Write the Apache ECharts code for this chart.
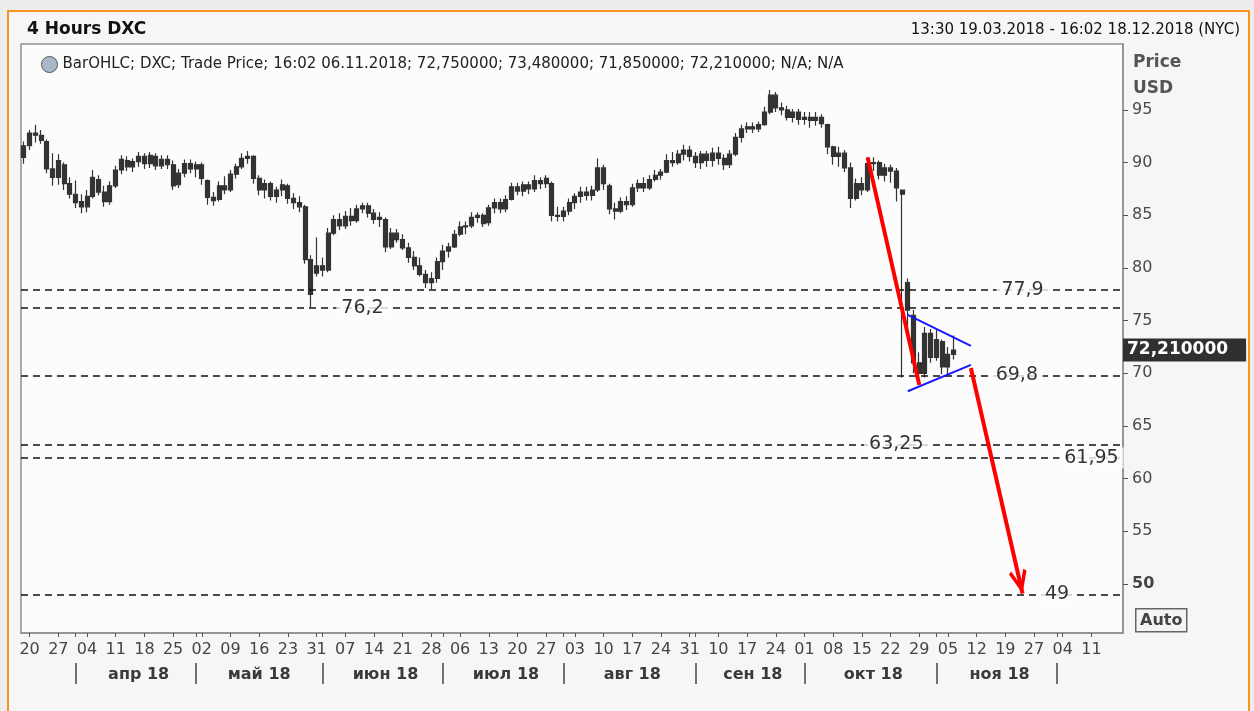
<!DOCTYPE html>
<html>
<head>
<meta charset="utf-8">
<title>4 Hours DXC</title>
<script src="https://cdn.jsdelivr.net/npm/echarts@6/dist/echarts.min.js"></script>
<style>
  html, body { margin: 0; padding: 0; background: #ededed; }
  #frame {
    position: absolute; left: 7px; top: 10px; width: 1239px; height: 720px;
    border: 2px solid #f7941d; background: #f6f6f6;
  }
  #chart { position: absolute; left: 0; top: 0; width: 1254px; height: 711px; }
</style>
</head>
<body>
<div id="frame"></div>
<div id="chart"></div>
<script>
// trading days 19.03.2018 - 18.12.2018 (one category per day)
const tradingDays = [
  '19.03','20.03','21.03','22.03','23.03','26.03','27.03','28.03','29.03',
  '02.04','03.04','04.04','05.04','06.04','09.04','10.04','11.04','12.04','13.04','16.04','17.04','18.04','19.04','20.04','23.04','24.04','25.04','26.04','27.04','30.04',
  '01.05','02.05','03.05','04.05','07.05','08.05','09.05','10.05','11.05','14.05','15.05','16.05','17.05','18.05','21.05','22.05','23.05','24.05','25.05','29.05','30.05','31.05',
  '01.06','04.06','05.06','06.06','07.06','08.06','11.06','12.06','13.06','14.06','15.06','18.06','19.06','20.06','21.06','22.06','25.06','26.06','27.06','28.06','29.06',
  '02.07','03.07','05.07','06.07','09.07','10.07','11.07','12.07','13.07','16.07','17.07','18.07','19.07','20.07','23.07','24.07','25.07','26.07','27.07','30.07','31.07',
  '01.08','02.08','03.08','06.08','07.08','08.08','09.08','10.08','13.08','14.08','15.08','16.08','17.08','20.08','21.08','22.08','23.08','24.08','27.08','28.08','29.08','30.08','31.08',
  '04.09','05.09','06.09','07.09','10.09','11.09','12.09','13.09','14.09','17.09','18.09','19.09','20.09','21.09','24.09','25.09','26.09','27.09','28.09',
  '01.10','02.10','03.10','04.10','05.10','08.10','09.10','10.10','11.10','12.10','15.10','16.10','17.10','18.10','19.10','22.10','23.10','24.10','25.10','26.10','29.10','30.10','31.10',
  '01.11','02.11','05.11','06.11','07.11','08.11','09.11','12.11','13.11','14.11','15.11','16.11','19.11','20.11','21.11','23.11','26.11','27.11','28.11','29.11','30.11',
  '03.12','04.12','05.12','06.12','07.12','10.12','11.12','12.12','13.12','14.12','17.12','18.12'
];

// [open, close, low, high] per day
const bars = [
  [90.5,91.6,89.9,92.0],[91.6,92.8,91.2,93.1],[92.8,92.6,91.9,93.6],[92.6,92.1,91.8,93.1],[92.0,89.4,89.0,92.2],
  [89.4,88.6,87.8,90.9],[88.6,90.2,87.9,90.8],[89.8,88.0,87.4,90.0],[88.0,87.0,86.6,88.6],[87.0,86.2,85.7,88.3],
  [86.3,85.8,85.2,87.0],[85.8,86.8,85.3,87.4],[86.8,88.6,86.6,89.3],[88.4,87.2,86.9,88.8],[87.2,86.3,85.8,87.8],
  [86.3,87.8,86.0,88.2],[87.8,89.3,87.6,89.7],[89.3,90.3,88.9,90.7],[90.2,89.6,89.2,90.6],[89.6,90.1,89.1,90.4],
  [90.1,90.6,89.6,91.0],[90.6,89.9,89.4,90.9],[89.9,90.7,89.5,91.0],[90.6,89.7,89.3,90.9],[89.7,90.3,89.4,90.7],
  [90.3,89.8,89.4,90.7],[89.8,87.8,87.4,90.2],[87.9,89.0,87.6,89.4],[89.0,89.9,88.6,90.3],[89.9,89.4,89.0,90.3],
  [89.4,89.8,88.6,90.1],[89.8,88.5,87.9,90.0],[88.3,86.7,86.0,88.4],[86.7,86.4,85.9,87.2],[86.5,87.8,86.3,88.2],
  [87.8,87.4,87.0,88.7],[87.4,88.9,87.2,89.3],[88.9,89.6,88.5,89.9],[89.6,90.4,89.4,90.9],[90.4,90.6,89.9,91.1],
  [90.6,88.5,88.0,90.7],[88.5,87.4,86.9,88.8],[87.4,88.0,86.6,88.4],[88.0,86.8,86.4,88.2],[86.8,87.4,86.2,87.7],
  [87.4,87.9,86.8,88.4],[87.8,86.6,86.1,88.0],[86.6,86.2,85.6,87.1],[86.2,85.8,85.3,86.8],[85.8,80.8,80.4,86.0],
  [80.8,77.5,76.3,81.2],[79.5,80.2,79.2,82.9],[80.2,79.8,79.2,81.0],[79.8,83.3,79.6,83.8],[83.3,84.6,83.1,85.0],
  [84.6,84.0,83.6,85.2],[84.0,84.9,83.7,85.4],[84.9,84.5,84.0,85.7],[84.5,85.6,84.3,86.0],[85.6,85.9,85.2,86.2],
  [85.9,85.2,84.8,86.2],[85.2,84.6,84.2,85.6],[84.6,84.8,83.9,85.3],[84.6,82.0,81.5,84.8],[82.0,83.3,81.8,83.8],
  [83.3,82.7,82.4,83.7],[82.7,81.9,81.7,83.2],[81.9,81.0,80.5,82.4],[81.0,80.2,79.8,81.6],[80.2,79.4,79.2,81.0],
  [79.4,78.6,78.1,79.8],[78.6,79.0,78.0,79.6],[79.0,80.6,78.6,81.0],[80.6,81.6,79.8,82.2],[81.6,82.0,81.0,82.4],
  [82.0,83.2,81.9,83.6],[83.2,83.9,83.0,84.4],[83.9,84.0,83.2,84.4],[84.0,84.8,83.8,85.3],[84.8,85.0,84.3,85.3],
  [85.0,84.2,83.9,85.2],[84.3,85.7,84.0,86.0],[85.7,86.2,85.2,86.6],[86.2,85.6,85.2,86.6],[85.6,86.5,85.3,86.9],
  [86.5,87.7,86.4,88.1],[87.7,87.3,86.9,88.1],[87.3,87.9,86.8,88.2],[87.9,87.5,87.0,88.2],[87.5,88.3,87.2,88.8],
  [88.3,88.0,87.5,88.6],[88.0,88.5,87.6,88.8],[88.0,85.0,84.4,88.2],[85.0,84.9,84.4,85.8],[84.9,85.4,84.4,85.8],
  [85.4,86.2,85.0,86.6],[86.2,86.8,85.6,87.1],[86.8,87.2,86.2,87.7],[87.2,86.9,86.4,87.7],[86.9,87.4,86.4,87.8],
  [87.4,89.5,87.2,90.4],[89.5,88.0,87.4,89.8],[87.8,85.6,85.1,88.0],[85.6,85.4,84.6,86.2],[85.4,86.3,85.2,86.7],
  [86.3,86.0,85.5,86.8],[86.0,87.6,85.8,88.0],[87.6,88.0,87.2,88.4],[88.0,87.6,87.2,88.6],[87.6,88.4,87.4,88.8],
  [88.4,88.8,88.2,89.3],[88.8,89.1,88.4,89.4],[89.1,90.2,89.0,90.8],[90.2,90.0,89.6,91.0],[90.0,90.8,89.8,91.2],
  [90.8,91.2,90.2,91.7],[91.2,90.6,90.1,91.6],[90.6,90.0,89.5,91.0],[90.0,90.8,89.4,91.1],[90.8,90.2,89.6,91.1],
  [90.2,90.9,89.6,91.4],[90.9,90.4,89.8,91.5],[90.4,89.8,89.3,90.8],[89.8,90.8,89.5,91.2],[90.8,92.4,90.6,92.8],
  [92.4,93.2,91.9,93.6],[93.2,93.4,92.8,93.8],[93.4,93.2,92.8,93.8],[93.2,93.6,92.9,93.9],[93.6,94.8,93.5,95.3],
  [94.8,96.4,94.6,96.9],[96.4,95.2,94.8,96.7],[95.2,95.0,94.5,95.7],[95.0,94.3,94.0,95.4],[94.3,94.8,93.8,95.1],
  [94.8,94.1,93.6,95.1],[94.1,94.3,93.6,94.8],[94.3,94.0,93.3,94.8],[94.0,94.3,93.5,94.8],[94.3,93.7,93.3,94.6],
  [93.6,91.5,90.8,93.7],[91.5,90.6,89.8,91.6],[90.6,90.9,89.6,91.5],[90.9,89.5,89.1,91.2],[89.5,86.6,85.7,90.0],
  [86.6,88.0,86.4,88.5],[88.0,87.4,86.9,88.6],[87.4,89.9,87.2,90.5],[89.9,90.0,89.2,90.5],[90.0,88.8,88.4,90.2],
  [88.8,89.5,88.2,89.9],[89.5,89.2,88.1,89.8],[89.2,87.6,86.3,89.5],[87.4,87.0,69.6,87.4],[78.6,76.0,73.2,79.0],
  [75.5,71.0,70.0,76.0],[71.0,70.0,68.9,72.0],[70.0,73.8,69.6,74.4],[73.8,71.5,71.0,74.2],[71.5,73.2,71.2,74.1],
  [73.0,70.6,69.9,73.2],[70.6,71.8,69.7,72.5],[71.8,72.21,71.3,73.6]
];

// last 4h bar shown in the legend: open, high, low, close
const lastBar = [72.75, 73.48, 71.85, 72.21];

const weekTicks = ['20.03','27.03','04.04','11.04','18.04','25.04','02.05','09.05','16.05','23.05','31.05',
  '07.06','14.06','21.06','28.06','06.07','13.07','20.07','27.07','03.08','10.08','17.08','24.08','31.08',
  '10.09','17.09','24.09','01.10','08.10','15.10','22.10','29.10','05.11','12.11','19.11','27.11','04.12','11.12'];
const monthStarts = ['02.04','01.05','01.06','02.07','01.08','04.09','01.10','01.11','03.12'];
const monthNames = ['апр 18','май 18','июн 18','июл 18','авг 18','сен 18','окт 18','ноя 18'];
const yTicks = [50, 55, 60, 65, 70, 75, 80, 85, 90, 95];

// horizontal levels and where their label sits
const levelValues = [77.9, 76.2, 69.8, 63.25, 61.95, 49];
const levelLabelDates = ['23.11', '12.06', '21.11', '23.10', '11.12', '03.12'];

// drawn trend lines [date, price] -> [date, price]
const redDown1 = [['16.10', 90.5], ['29.10', 68.9]];
const blueUpper = [['25.10', 75.55], ['09.11', 72.6]];
const blueLower = [['25.10', 68.3], ['09.11', 70.8]];
const redDown2 = [['09.11', 70.5], ['23.11', 49.1]];

const FONT = 'Tahoma, "DejaVu Sans", sans-serif';
const comma = (v, d) => (d == null ? String(v) : v.toFixed(d)).replace('.', ',');

const monthLabelIdx = monthNames.map((n, k) =>
  Math.round((tradingDays.indexOf(monthStarts[k]) + tradingDays.indexOf(monthStarts[k + 1])) / 2));

const seriesName = 'BarOHLC; DXC; Trade Price';
const legendText = seriesName + '; 16:02 06.11.2018; ' +
  lastBar.map(v => comma(v, 6)).join('; ') + '; N/A; N/A';

// open chevron, tip at the centre of its box so it ends on the line's end point
const arrowHead = 'path://M5,-10 L5.01,-10 L5,-9.99 Z M5,0 L10,9 L8.4,10 L5,3.6 L1.6,10 L0,9 Z';

const chart = echarts.init(document.getElementById('chart'));

const option = {
  animation: false,
  textStyle: { fontFamily: FONT },
  title: [
    { text: '4 Hours DXC', left: 22, top: 16,
      textStyle: { fontFamily: FONT, fontSize: 17, fontWeight: 'bold', color: '#111' } },
    { text: '13:30 19.03.2018 - 16:02 18.12.2018 (NYC)', right: 9, top: 18,
      textStyle: { fontFamily: FONT, fontSize: 15, fontWeight: 'normal', color: '#111' } }
  ],
  legend: {
    data: [seriesName], left: 36, top: 51, selectedMode: false,
    icon: 'circle', itemWidth: 16, itemHeight: 16, itemGap: 4,
    itemStyle: { color: '#a9b8c8', borderColor: '#555', borderWidth: 1 },
    formatter: () => legendText,
    textStyle: { fontFamily: FONT, fontSize: 15, color: '#222' }
  },
  grid: {
    left: 21, right: 131, top: 44, bottom: 78, show: true,
    backgroundColor: '#fcfcfc', borderColor: '#8f8f8f', borderWidth: 1.5
  },
  xAxis: [
    { // week labels
      type: 'category', data: tradingDays, boundaryGap: true,
      axisLine: { show: true, lineStyle: { color: '#8f8f8f', width: 1.5 } },
      axisTick: { show: true, alignWithLabel: true, length: 4,
        interval: (i, v) => weekTicks.includes(v), lineStyle: { color: '#555' } },
      axisLabel: { interval: (i, v) => weekTicks.includes(v), formatter: v => v.slice(0, 2),
        color: '#444', fontSize: 16, margin: 9, fontFamily: FONT },
      splitLine: { show: false }
    },
    { // month separators and names
      type: 'category', data: tradingDays, boundaryGap: true, position: 'bottom', offset: 30,
      axisLine: { show: false },
      axisTick: { show: true, alignWithLabel: true, length: 21,
        interval: (i, v) => monthStarts.includes(v), lineStyle: { color: '#444', width: 1.5 } },
      axisLabel: { interval: (i) => monthLabelIdx.includes(i),
        formatter: (v, i) => monthNames[monthLabelIdx.indexOf(i)] || '',
        color: '#3a3a3a', fontSize: 16, fontWeight: 'bold', margin: 4, fontFamily: FONT },
      splitLine: { show: false }
    },
    { // small month-boundary ticks on the axis line
      type: 'category', data: tradingDays, boundaryGap: true, position: 'bottom',
      axisLine: { show: false },
      axisTick: { show: true, alignWithLabel: true, length: 4,
        interval: (i, v) => monthStarts.includes(v), lineStyle: { color: '#555' } },
      axisLabel: { show: false },
      splitLine: { show: false }
    }
  ],
  yAxis: {
    type: 'value', position: 'right', min: 45.35, max: 101.26, scale: true,
    name: 'Price\nUSD', nameLocation: 'end', nameGap: -6,
    nameTextStyle: { align: 'left', verticalAlign: 'top', padding: [0, 0, 0, 10], lineHeight: 26,
      fontWeight: 'bold', fontSize: 17, color: '#555', fontFamily: FONT },
    axisLine: { show: true, lineStyle: { color: '#8f8f8f', width: 1.5 } },
    axisTick: { show: true, length: 5, customValues: yTicks, lineStyle: { color: '#555' } },
    axisLabel: { customValues: yTicks, margin: 9, color: '#4a4a4a', fontSize: 16, fontFamily: FONT,
      formatter: v => (v === 50 ? '{b|50}' : String(v)),
      rich: { b: { fontWeight: 'bold', fontSize: 16, color: '#444', fontFamily: FONT } } },
    splitLine: { show: false }
  },
  graphic: [
    { type: 'group', left: 1135, top: 608, children: [
      { type: 'rect', shape: { x: 0, y: 0, width: 51, height: 23 },
        style: { fill: '#f4f4f4', stroke: '#666', lineWidth: 1.5 } },
      { type: 'text', x: 25.5, y: 12, style: { text: 'Auto', fill: '#444', font: 'bold 16px ' + FONT,
        textAlign: 'center', textVerticalAlign: 'middle' } }
    ] }
  ],
  series: [
    {
      name: seriesName, type: 'candlestick', data: bars, barWidth: 4.5,
      itemStyle: { color: '#333', color0: '#333', borderColor: '#333', borderColor0: '#333', borderWidth: 1.2 },
      markLine: {
        silent: true, symbol: ['none', 'none'], label: { show: false },
        data: [
          ...levelValues.map(v => ({ yAxis: v, lineStyle: { color: '#111', type: [7, 5], width: 1.6 } })),
          [{ coord: redDown1[0], lineStyle: { color: '#ff0000', width: 4, type: 'solid' } }, { coord: redDown1[1] }],
          [{ coord: blueUpper[0], lineStyle: { color: '#1818ff', width: 2, type: 'solid' } }, { coord: blueUpper[1] }],
          [{ coord: blueLower[0], lineStyle: { color: '#1818ff', width: 2, type: 'solid' } }, { coord: blueLower[1] }],
          [{ coord: redDown2[0], lineStyle: { color: '#ff0000', width: 4, type: 'solid' } },
           { coord: redDown2[1], symbol: arrowHead, symbolSize: [18, 48] }],
          { yAxis: lastBar[3], lineStyle: { width: 1, color: 'rgba(0,0,0,0)', type: 'solid' },
            label: { show: true, position: 'end', distance: 0, formatter: comma(lastBar[3], 6),
              color: '#fff', fontWeight: 'bold', fontSize: 17, fontFamily: FONT,
              backgroundColor: '#303030', padding: [3, 18, 3, 4] } }
        ]
      }
    },
    {
      name: 'levels', type: 'scatter', z: 5, silent: true,
      symbol: 'rect', symbolSize: 1, itemStyle: { color: 'transparent' },
      data: levelValues.map((v, i) => [levelLabelDates[i], v]),
      label: { show: true, position: 'inside', formatter: p => comma(p.value[1]),
        color: '#000', fontSize: 19, fontFamily: FONT, backgroundColor: '#fcfcfc', padding: [1, 5] }
    }
  ]
};

chart.setOption(option);
</script>
</body>
</html>
